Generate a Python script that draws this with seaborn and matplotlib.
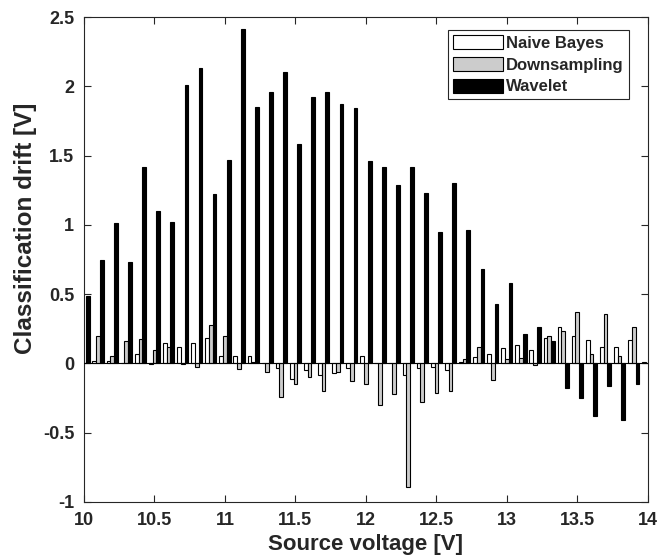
import numpy as np
import pandas as pd
import matplotlib
matplotlib.use("Agg")
import matplotlib.pyplot as plt
import seaborn as sns
from matplotlib.ticker import FormatStrFormatter, MultipleLocator
from matplotlib.patches import Patch

# source voltage groups, 10.0 ... 14.0 V
voltage = np.round(np.arange(100, 141) / 10, 1)

naive_bayes = [0.0, 0.02, 0.02, 0.0, 0.065, -0.005, 0.15, 0.115, 0.15, 0.18,
               0.05, 0.05, 0.055, 0.0, -0.03, -0.11, -0.05, -0.085, -0.067, -0.035,
               0.05, 0.0, 0.0, -0.08, -0.036, -0.025, -0.05, 0.012, 0.045, 0.07,
               0.11, 0.13, 0.10, 0.18, 0.26, 0.20, 0.17, 0.12, 0.12, 0.17,
               0.01]
downsampling = [0.0, 0.20, 0.055, 0.16, 0.175, 0.10, 0.115, -0.005, -0.025, 0.28,
                0.20, -0.043, 0.01, -0.06, -0.24, -0.15, -0.10, -0.20, -0.06, -0.13,
                -0.15, -0.30, -0.22, -0.89, -0.28, -0.21, -0.20, 0.033, 0.12, -0.12,
                0.03, 0.04, -0.01, 0.20, 0.235, 0.37, 0.067, 0.356, 0.055, 0.26,
                0.0]
wavelet = [0.49, 0.75, 1.01, 0.73, 1.42, 1.10, 1.02, 2.01, 2.13, 1.22,
           1.47, 2.41, 1.85, 1.96, 2.10, 1.58, 1.92, 1.96, 1.87, 1.84,
           1.46, 1.42, 1.29, 1.42, 1.23, 0.95, 1.30, 0.96, 0.68, 0.43,
           0.58, 0.21, 0.26, 0.16, -0.18, -0.25, -0.38, -0.16, -0.41, -0.15,
           0.45]

methods = ["Naive Bayes", "Downsampling", "Wavelet"]
colors = ["#ffffff", "#cccccc", "#000000"]

df = pd.DataFrame({
    "voltage": np.concatenate([voltage] * 3),
    "drift": np.concatenate([naive_bayes, downsampling, wavelet]),
    "method": np.repeat(methods, len(voltage)),
})

sns.set_style("ticks")
plt.rcParams["font.family"] = ["Liberation Sans", "DejaVu Sans"]
plt.rcParams["font.weight"] = "bold"
plt.rcParams["axes.unicode_minus"] = False

fig = plt.figure(figsize=(6.72, 5.6), dpi=100)
ax = fig.add_axes([0.125, 0.1036, 0.839, 0.866])

sns.barplot(data=df, x="voltage", y="drift", hue="method", hue_order=methods,
            palette=colors, native_scale=True, errorbar=None, width=0.8,
            edgecolor="black", linewidth=0.8, saturation=1, ax=ax)

ax.axhline(0, color="black", lw=0.8, zorder=5)

ax.set_xlim(10, 14)
ax.set_ylim(-1, 2.5)
ax.xaxis.set_major_locator(MultipleLocator(0.5))
ax.yaxis.set_major_locator(MultipleLocator(0.5))
ax.xaxis.set_major_formatter(FormatStrFormatter("%g"))
ax.yaxis.set_major_formatter(FormatStrFormatter("%g"))
ax.tick_params(direction="in", top=True, right=True, length=5, width=0.8,
               labelsize=13, color="#262626")
ax.tick_params(axis="x", pad=7)
ax.tick_params(axis="y", pad=7)
for lab in ax.get_xticklabels() + ax.get_yticklabels():
    lab.set_fontweight("bold")
for sp in ax.spines.values():
    sp.set_visible(True)
    sp.set_color("#262626")
    sp.set_linewidth(0.8)

ax.set_xlabel("Source voltage [V]", fontsize=16, fontweight="bold", labelpad=4)
ax.set_ylabel("Classification drift [V]", fontsize=17.5, fontweight="bold")
ax.yaxis.set_label_coords(-0.083, 0.565)

handles = [Patch(facecolor=c, edgecolor="black", linewidth=0.8) for c in colors]
leg = ax.legend(handles, methods, loc="upper right", bbox_to_anchor=(0.972, 0.98),
                fontsize=12, handlelength=3.0, handleheight=0.95, handletextpad=0.2,
                labelspacing=0.35, borderpad=0.3, borderaxespad=0.2,
                fancybox=False, framealpha=1)
leg.get_frame().set_edgecolor("#262626")
leg.get_frame().set_linewidth(0.8)
for t in leg.get_texts():
    t.set_fontweight("bold")

fig.savefig("out.png", dpi=100)
